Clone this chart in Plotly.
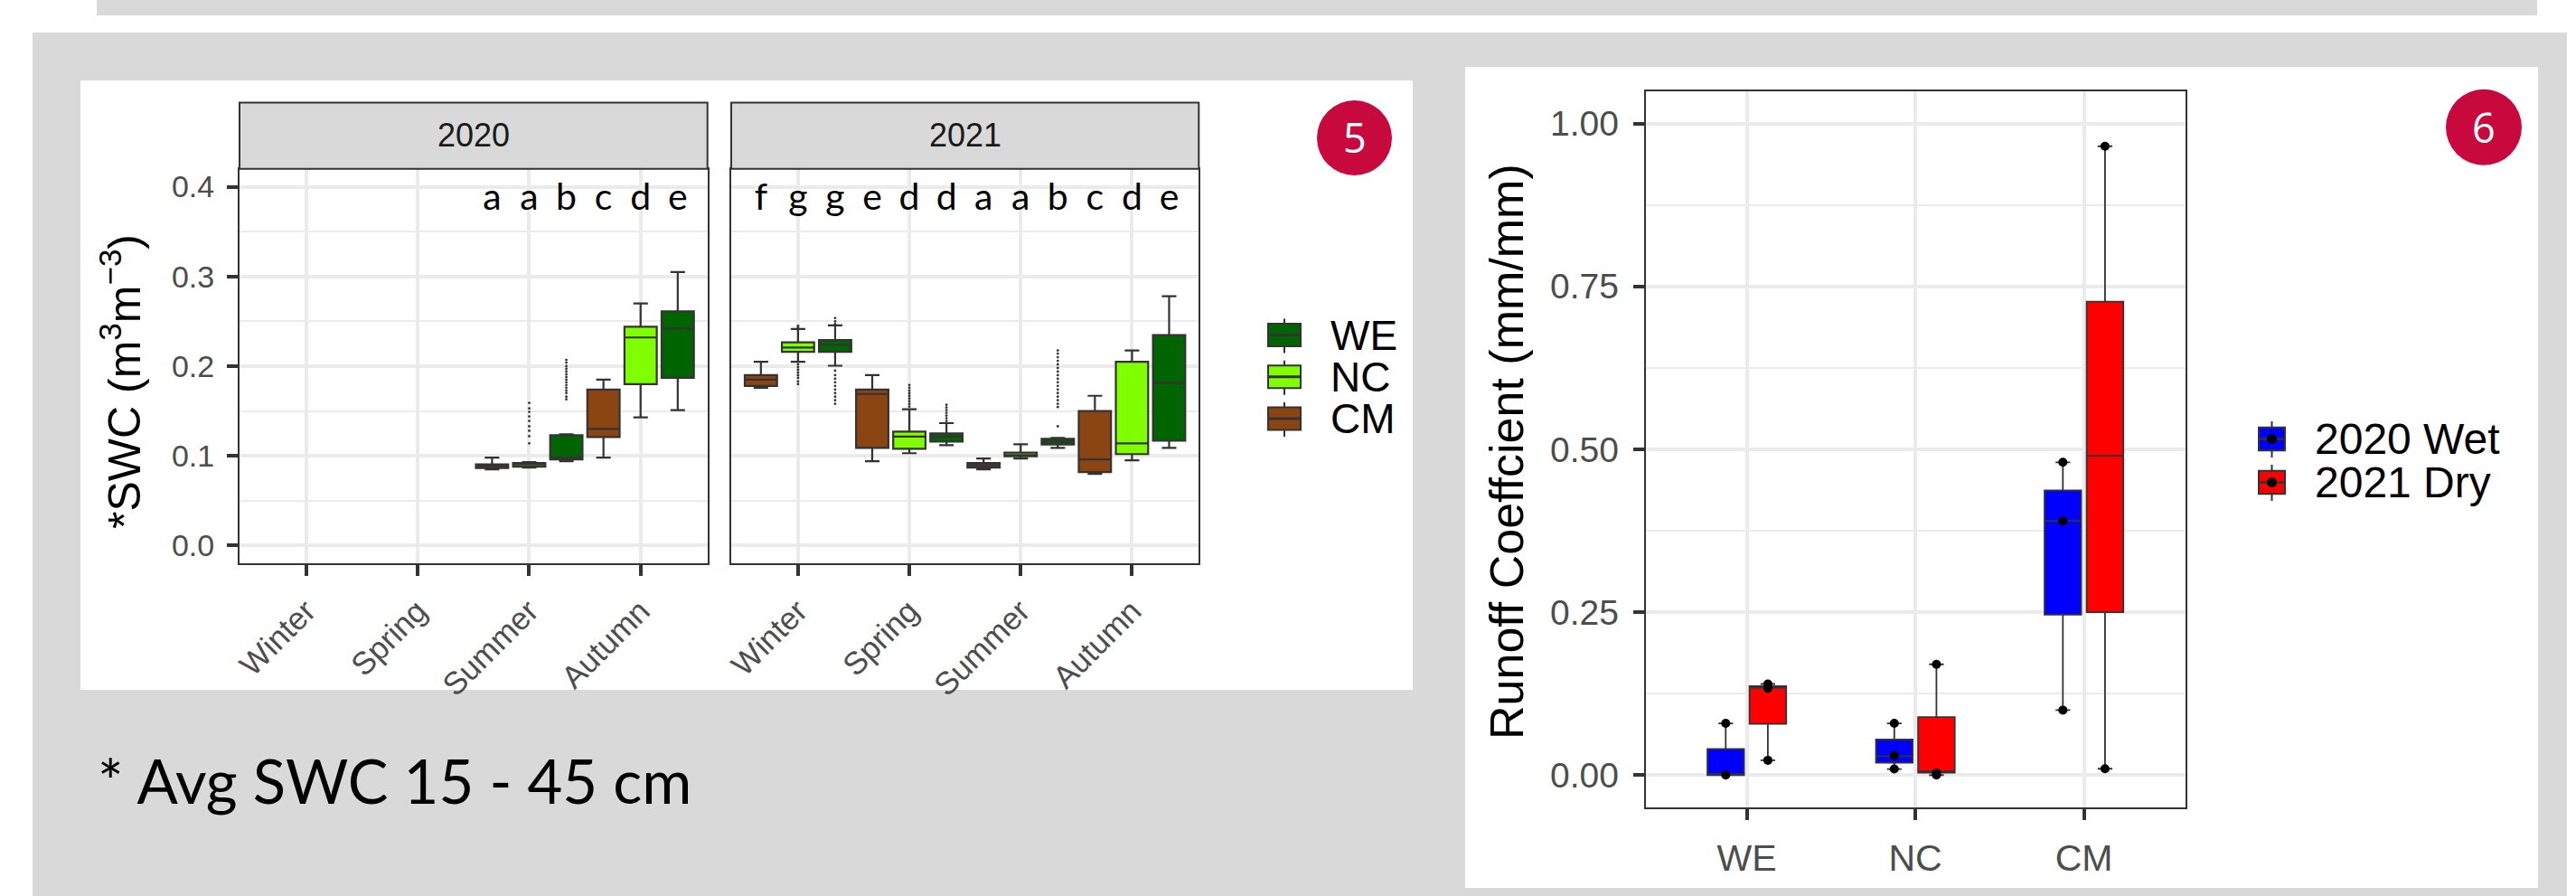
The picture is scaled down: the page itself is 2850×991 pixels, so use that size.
import plotly.graph_objects as go

W, H = 2850, 991

# ---------------- Panel 5 : soil water content ----------------
seasons = ["Winter", "Spring", "Summer", "Autumn"]
seasons_2020 = ["Summer", "Autumn"]
seasons_2021 = ["Winter", "Spring", "Summer", "Autumn"]
legend_sites = ["WE", "NC", "CM"]          # legend order top -> bottom
dodge_sites = ["CM", "NC", "WE"]           # dodge order left -> right
site_colors = {"WE": "#006400", "NC": "#7FFF00", "CM": "#8B4513"}

# 2020 (Summer, Autumn)
cm20_lf = [0.085, 0.098]
cm20_q1 = [0.0865, 0.121]
cm20_med = [0.089, 0.130]
cm20_q3 = [0.0905, 0.174]
cm20_uf = [0.098, 0.185]
cm20_out = [[], []]
cm20_letters = ["a", "c"]

nc20_lf = [0.087, 0.143]
nc20_q1 = [0.088, 0.180]
nc20_med = [0.0905, 0.232]
nc20_q3 = [0.092, 0.244]
nc20_uf = [0.093, 0.270]
nc20_out = [[0.114, 0.122, 0.128, 0.133, 0.139, 0.144, 0.149, 0.153, 0.159], []]
nc20_letters = ["a", "d"]

we20_lf = [0.094, 0.151]
we20_q1 = [0.096, 0.187]
we20_med = [0.098, 0.242]
we20_q3 = [0.123, 0.261]
we20_uf = [0.124, 0.305]
we20_out = [[0.163, 0.166, 0.170, 0.173, 0.176, 0.179, 0.182, 0.185, 0.188,
             0.191, 0.194, 0.197, 0.200, 0.204, 0.207], []]
we20_letters = ["b", "e"]

# 2021 (Winter, Spring, Summer, Autumn)
cm21_lf = [0.176, 0.094, 0.085, 0.080]
cm21_q1 = [0.178, 0.109, 0.087, 0.082]
cm21_med = [0.185, 0.169, 0.0896, 0.096]
cm21_q3 = [0.190, 0.174, 0.092, 0.150]
cm21_uf = [0.205, 0.190, 0.097, 0.167]
cm21_out = [[], [], [], []]
cm21_letters = ["f", "e", "a", "c"]

nc21_lf = [0.205, 0.103, 0.097, 0.095]
nc21_q1 = [0.216, 0.108, 0.0995, 0.102]
nc21_med = [0.2207, 0.1216, 0.101, 0.114]
nc21_q3 = [0.2266, 0.127, 0.1036, 0.205]
nc21_uf = [0.2414, 0.152, 0.113, 0.2176]
nc21_out = [[0.180, 0.183, 0.187, 0.190, 0.193, 0.196, 0.199, 0.202, 0.243, 0.245],
            [0.155, 0.158, 0.161, 0.164, 0.167, 0.170, 0.173, 0.176, 0.179],
            [], []]
nc21_letters = ["g", "d", "a", "d"]

we21_lf = [0.2005, 0.112, 0.109, 0.109]
we21_q1 = [0.216, 0.116, 0.1126, 0.117]
we21_med = [0.224, 0.1216, 0.116, 0.1815]
we21_q3 = [0.229, 0.125, 0.119, 0.2347]
we21_uf = [0.2455, 0.1365, 0.120, 0.278]
we21_out = [[0.158, 0.162, 0.166, 0.170, 0.174, 0.178, 0.182, 0.186, 0.190, 0.195,
             0.247, 0.250, 0.2536],
            [0.139, 0.142, 0.145, 0.148, 0.151, 0.154, 0.157],
            [0.133, 0.1545, 0.158, 0.162, 0.166, 0.170, 0.174, 0.178, 0.182, 0.186,
             0.190, 0.194, 0.198, 0.202, 0.206, 0.210, 0.214, 0.2176],
            []]
we21_letters = ["g", "d", "b", "e"]

LETTER_Y = 0.385

# ---------------- Panel 6 : runoff coefficient ----------------
rc_sites = ["WE", "NC", "CM"]
wet_q1 = [0.0, 0.019, 0.246]
wet_med = [0.0, 0.029, 0.39]
wet_q3 = [0.040, 0.0545, 0.437]
wet_lf = [0.0, 0.0093, 0.0997]
wet_uf = [0.0794, 0.0794, 0.48]
wet_pts = [[0.0, 0.0794], [0.0093, 0.030, 0.0794], [0.0997, 0.39, 0.48]]

dry_q1 = [0.0785, 0.0037, 0.25]
dry_med = [0.134, 0.0057, 0.49]
dry_q3 = [0.1366, 0.089, 0.7266]
dry_lf = [0.0227, 0.0, 0.0097]
dry_uf = [0.1398, 0.17, 0.965]
dry_pts = [[0.0227, 0.133, 0.1398], [0.0, 0.003, 0.17], [0.0097, 0.965]]

rc_years = ["2020 Wet", "2021 Dry"]
year_colors = {"2020 Wet": "#0000FF", "2021 Dry": "#FF0000"}

# ---------------- helpers ----------------
FONT = "Liberation Sans, Arial, sans-serif"
GRID = "#EBEBEB"
DARK = "#333333"
TICKC = "#4D4D4D"


def px(x):
    return x / W


def py(y):
    return 1 - y / H


swc2020 = {
    "CM": (cm20_lf, cm20_q1, cm20_med, cm20_q3, cm20_uf, cm20_out, cm20_letters),
    "NC": (nc20_lf, nc20_q1, nc20_med, nc20_q3, nc20_uf, nc20_out, nc20_letters),
    "WE": (we20_lf, we20_q1, we20_med, we20_q3, we20_uf, we20_out, we20_letters),
}
swc2021 = {
    "CM": (cm21_lf, cm21_q1, cm21_med, cm21_q3, cm21_uf, cm21_out, cm21_letters),
    "NC": (nc21_lf, nc21_q1, nc21_med, nc21_q3, nc21_uf, nc21_out, nc21_letters),
    "WE": (we21_lf, we21_q1, we21_med, we21_q3, we21_uf, we21_out, we21_letters),
}

fig = go.Figure()

for panel, xs, xa, ya, grp in [(swc2020, seasons_2020, "x", "y", "p20"),
                                (swc2021, seasons_2021, "x2", "y2", "p21")]:
    for s in dodge_sites:
        lf, q1, med, q3, uf, out, letters = panel[s]
        rows = [o if o else [m] for o, m in zip(out, med)]
        fig.add_trace(go.Box(
            x=xs, q1=q1, median=med, q3=q3, lowerfence=lf, upperfence=uf, y=rows,
            boxpoints="outliers", jitter=0, pointpos=0,
            marker=dict(color=DARK, size=2.8),
            line=dict(color=DARK, width=2.2), fillcolor=site_colors[s],
            whiskerwidth=0.45, offsetgroup=s, alignmentgroup=grp,
            xaxis=xa, yaxis=ya, showlegend=False, hoverinfo="skip"))
    for s in dodge_sites:
        letters = panel[s][6]
        fig.add_trace(go.Scatter(
            x=xs, y=[LETTER_Y] * len(xs), mode="text", text=letters,
            textfont=dict(family="Lato, Open Sans, sans-serif", size=41, color="#000000"),
            offsetgroup=s, alignmentgroup=grp, xaxis=xa, yaxis=ya,
            showlegend=False, hoverinfo="skip", cliponaxis=False))

# runoff boxes (two hidden pad groups centre the two visible dodged boxes)
fig.add_trace(go.Box(x=rc_sites, q1=wet_q1, median=wet_med, q3=wet_q3,
                     visible="legendonly", showlegend=False,
                     offsetgroup="pad0", alignmentgroup="rc", xaxis="x3", yaxis="y3"))
for name, q1, med, q3, lf, uf, pts in [
        ("2020 Wet", wet_q1, wet_med, wet_q3, wet_lf, wet_uf, wet_pts),
        ("2021 Dry", dry_q1, dry_med, dry_q3, dry_lf, dry_uf, dry_pts)]:
    fig.add_trace(go.Box(
        x=rc_sites, q1=q1, median=med, q3=q3, lowerfence=lf, upperfence=uf, y=pts,
        boxpoints="all", jitter=0, pointpos=0,
        marker=dict(color="#000000", size=10),
        line=dict(color=DARK, width=1.8), fillcolor=year_colors[name],
        whiskerwidth=0.4, offsetgroup=name, alignmentgroup="rc",
        xaxis="x3", yaxis="y3", showlegend=False, hoverinfo="skip"))
fig.add_trace(go.Box(x=rc_sites, q1=dry_q1, median=dry_med, q3=dry_q3,
                     visible="legendonly", showlegend=False,
                     offsetgroup="pad3", alignmentgroup="rc", xaxis="x3", yaxis="y3"))

# ---------------- axes ----------------
L_X1 = (265, 782.7)
L_X2 = (809, 1326.3)
L_Y = (186.7, 623.3)
R_X = (1820.7, 2417.5)
R_Y = (100.5, 893.3)

axis_common = dict(showline=True, mirror=True, linecolor=DARK, linewidth=2,
                   ticks="outside", tickcolor=DARK, ticklen=12, tickwidth=3.5,
                   showgrid=True, gridcolor=GRID, gridwidth=3.5, zeroline=False,
                   automargin=False)

xcat = dict(type="category", categoryorder="array", categoryarray=seasons,
            range=[-0.6, 3.6], tickangle=-45, ticklabelstandoff=4,
            tickfont=dict(family=FONT, size=35, color=TICKC))
ycommon = dict(range=[-0.02, 0.42], dtick=0.1, tick0=0, tickformat=".1f",
               minor=dict(dtick=0.05, tick0=0, showgrid=True, gridcolor=GRID, gridwidth=2),
               tickfont=dict(family=FONT, size=34, color=TICKC), ticklabelstandoff=7)

fig.update_layout(
    xaxis=dict(**axis_common, **xcat, domain=[px(L_X1[0]), px(L_X1[1])], anchor="y"),
    xaxis2=dict(**axis_common, **xcat, domain=[px(L_X2[0]), px(L_X2[1])], anchor="y2"),
    yaxis=dict(**axis_common, **ycommon, domain=[py(L_Y[1]), py(L_Y[0])], anchor="x"),
    yaxis2=dict(**{**axis_common, "ticks": ""}, **ycommon, showticklabels=False,
                domain=[py(L_Y[1]), py(L_Y[0])], anchor="x2"),
    xaxis3=dict(**axis_common, type="category", categoryorder="array",
                categoryarray=rc_sites, range=[-0.6, 2.6], ticklabelstandoff=6,
                tickfont=dict(family=FONT, size=41, color=TICKC),
                domain=[px(R_X[0]), px(R_X[1])], anchor="y3"),
    yaxis3=dict(**axis_common, range=[-0.05, 1.05], dtick=0.25, tick0=0, tickformat=".2f",
                minor=dict(dtick=0.125, tick0=0, showgrid=True, gridcolor=GRID, gridwidth=2),
                tickfont=dict(family=FONT, size=39, color=TICKC), ticklabelstandoff=8,
                domain=[py(R_Y[1]), py(R_Y[0])], anchor="x3"),
)

# ---------------- decorations ----------------
shapes = []


def rect(x0, y0, x1, y1, fill, line=None, lw=0, layer="below"):
    shapes.append(dict(type="rect", xref="paper", yref="paper",
                       x0=px(x0), x1=px(x1), y0=py(y1), y1=py(y0),
                       fillcolor=fill, line=dict(color=line or fill, width=lw), layer=layer))


def seg(x0, y0, x1, y1, color, lw, layer="above"):
    shapes.append(dict(type="line", xref="paper", yref="paper",
                       x0=px(x0), x1=px(x1), y0=py(y0), y1=py(y1),
                       line=dict(color=color, width=lw), layer=layer))


def circ(cx, cy, r, fill, layer="above"):
    shapes.append(dict(type="circle", xref="paper", yref="paper",
                       x0=px(cx - r), x1=px(cx + r), y0=py(cy + r), y1=py(cy - r),
                       fillcolor=fill, line=dict(width=0), layer=layer))


GRAY_BG = "#D9D9D9"
rect(107, 0, 2807, 17, GRAY_BG)
rect(36, 36, 2840, 991, GRAY_BG)
rect(89, 89, 1563, 763, "#FFFFFF")
rect(1621, 74, 2808, 982, "#FFFFFF")

# facet strips
STRIP_Y = (113.5, L_Y[0])
for (x0, x1) in [L_X1, L_X2]:
    rect(x0, STRIP_Y[0], x1, STRIP_Y[1], "#D9D9D9", DARK, 2, layer="above")

BADGE = "#C8093E"
circ(1498.5, 152.5, 41.5, BADGE)
circ(2748, 140.7, 42, BADGE)

annotations = []


def text(x, y, s, size, color="#000000", family=FONT, xanchor="center", angle=0):
    annotations.append(dict(x=px(x), y=py(y), xref="paper", yref="paper", text=s,
                            showarrow=False, xanchor=xanchor, yanchor="middle",
                            textangle=angle, font=dict(family=family, size=size, color=color)))


text((L_X1[0] + L_X1[1]) / 2, 150, "2020", 36, "#1A1A1A")
text((L_X2[0] + L_X2[1]) / 2, 150, "2021", 36, "#1A1A1A")
text(1499, 152, "5", 45, "#FFFFFF", family="Open Sans, sans-serif")
text(2748, 140, "6", 45, "#FFFFFF", family="Open Sans, sans-serif")
text(134, 422, "*SWC (m<sup>3</sup>m<sup>\u22123</sup>)", 50, angle=-90)
text(1667, 500, "Runoff Coeffcient (mm/mm)", 52, angle=-90)
text(106, 863, "* Avg SWC 15 - 45 cm", 67, family="Lato, sans-serif", xanchor="left")

# legend for panel 5
LEG5_X = (1403, 1439)
for i, s in enumerate(legend_sites):
    cy = 370.5 + i * 46.2
    xm = (LEG5_X[0] + LEG5_X[1]) / 2
    seg(xm, cy - 18, xm, cy + 20, DARK, 2)
    rect(LEG5_X[0], cy - 12.5, LEG5_X[1], cy + 12.5, site_colors[s], DARK, 2, layer="above")
    seg(LEG5_X[0], cy, LEG5_X[1], cy, DARK, 3)
    text(1470, cy, s, 46, xanchor="left")

# legend for panel 6
LEG6_X = (2499, 2528)
for i, s in enumerate(rc_years):
    cy = 485.5 + i * 48
    xm = (LEG6_X[0] + LEG6_X[1]) / 2
    seg(xm, cy - 19.5, xm, cy + 20.5, DARK, 2)
    rect(LEG6_X[0], cy - 12.8, LEG6_X[1], cy + 12.8, year_colors[s], DARK, 2, layer="above")
    seg(LEG6_X[0], cy, LEG6_X[1], cy, DARK, 2.5)
    circ(xm, cy, 5.5, "#000000")
    text(2559, cy, s, 48, xanchor="left")

fig.update_layout(
    width=W, height=H, autosize=False,
    margin=dict(l=0, r=0, t=0, b=0, pad=0, autoexpand=False),
    paper_bgcolor="#FFFFFF", plot_bgcolor="#FFFFFF",
    boxmode="group", boxgap=0, boxgroupgap=0.13,
    scattermode="group", scattergap=0,
    showlegend=False, hovermode=False,
    shapes=shapes, annotations=annotations,
)

fig.write_html("out.html", config={"displayModeBar": False},
               post_script="document.body.style.margin='0';document.body.style.overflow='hidden';")
